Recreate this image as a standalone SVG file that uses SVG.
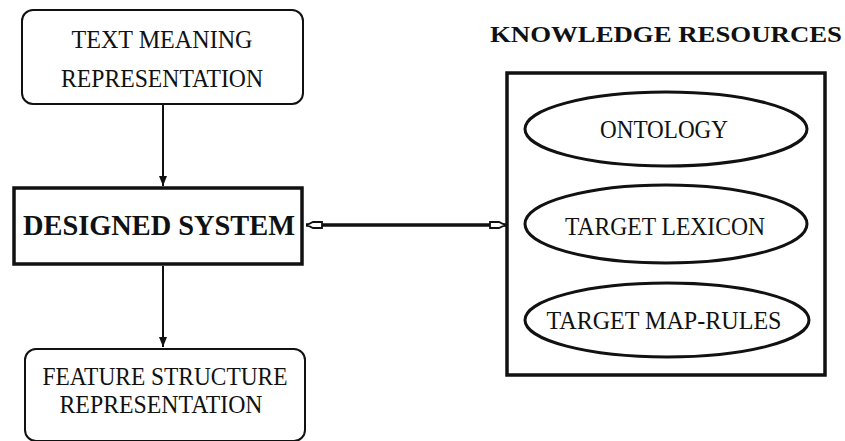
<svg xmlns="http://www.w3.org/2000/svg" width="845" height="441" viewBox="0 0 845 441">
<defs>
<style>
.t{font-family:"Liberation Serif","Times New Roman",serif;font-size:25px;fill:#111;text-anchor:middle}
.tb{font-family:"Liberation Serif","Times New Roman",serif;font-weight:bold;fill:#111;text-anchor:middle}
.rb{fill:#fff;stroke:#111;stroke-width:2}
.thick{fill:#fff;stroke:#111;stroke-width:3.5}
.el{fill:#fff;stroke:#111;stroke-width:3}
.ln{stroke:#111;stroke-width:2;fill:none}
.hl{stroke:#111;stroke-width:3.5;fill:none}
</style>
<marker id="fa" viewBox="0 0 10 10" refX="10" refY="5" markerWidth="5" markerHeight="7" markerUnits="strokeWidth" orient="auto">
<path d="M0,1 L10,5 L0,9 Z" fill="#111"/>
</marker>
<marker id="oa" viewBox="0 0 17 10" refX="17" refY="5" markerWidth="17" markerHeight="10" markerUnits="userSpaceOnUse" orient="auto-start-reverse">
<path d="M1,2 L10,2 L16,5 L10,8 L1,8 Z" fill="#fff" stroke="#111" stroke-width="1.8"/>
</marker>
</defs>
<rect width="845" height="441" fill="#fff"/>
<g id="connectors">
<line class="ln" x1="163" y1="104" x2="163" y2="186" marker-end="url(#fa)"/>
<line class="ln" x1="163" y1="266" x2="163" y2="347" marker-end="url(#fa)"/>
<line class="hl" x1="306" y1="225" x2="506" y2="225" marker-start="url(#oa)" marker-end="url(#oa)"/>
</g>
<g id="tmr">
<rect class="rb" x="22" y="10" width="281" height="94" rx="11"/>
<text class="t" x="162" y="48" textLength="181" lengthAdjust="spacingAndGlyphs">TEXT MEANING</text>
<text class="t" x="162" y="87" textLength="202" lengthAdjust="spacingAndGlyphs">REPRESENTATION</text>
</g>
<g id="designed">
<rect class="thick" x="14" y="188" width="288" height="76"/>
<text class="tb" x="159" y="235" font-size="30" textLength="272" lengthAdjust="spacingAndGlyphs">DESIGNED SYSTEM</text>
</g>
<g id="fsr">
<rect class="rb" x="25" y="349" width="280" height="92" rx="11"/>
<text class="t" x="165" y="385" textLength="245" lengthAdjust="spacingAndGlyphs">FEATURE STRUCTURE</text>
<text class="t" x="161" y="413" textLength="203" lengthAdjust="spacingAndGlyphs">REPRESENTATION</text>
</g>
<g id="kr">
<text class="tb" x="666" y="42" font-size="24" textLength="352" lengthAdjust="spacingAndGlyphs">KNOWLEDGE RESOURCES</text>
<rect class="thick" x="507" y="73" width="318" height="302"/>
</g>
<g id="ontology">
<ellipse class="el" cx="666" cy="129" rx="141" ry="37"/>
<text class="t" x="664" y="138" font-size="22" textLength="128" lengthAdjust="spacingAndGlyphs">ONTOLOGY</text>
</g>
<g id="lexicon">
<ellipse class="el" cx="666" cy="224" rx="141" ry="39"/>
<text class="t" x="665" y="235" font-size="22" textLength="200" lengthAdjust="spacingAndGlyphs">TARGET LEXICON</text>
</g>
<g id="maprules">
<ellipse class="el" cx="667" cy="320" rx="142" ry="37"/>
<text class="t" x="664" y="329" font-size="22" textLength="235" lengthAdjust="spacingAndGlyphs">TARGET MAP-RULES</text>
</g>
</svg>
